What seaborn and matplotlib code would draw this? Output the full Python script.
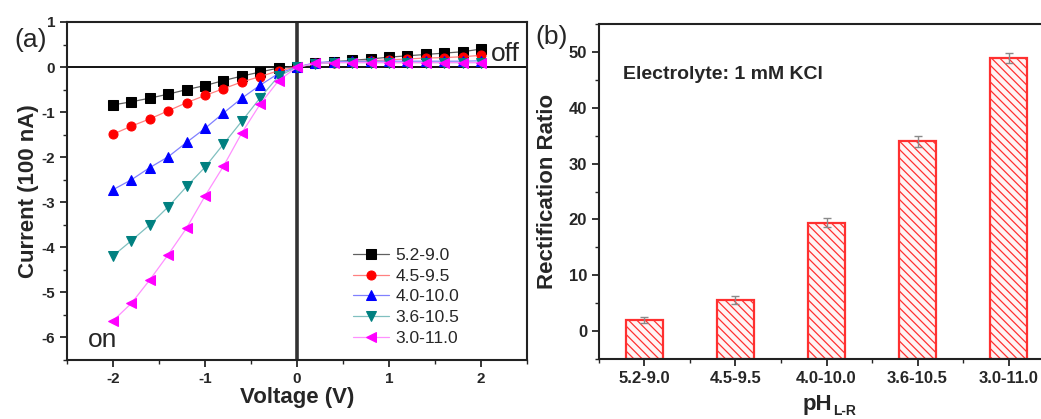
import matplotlib
matplotlib.use("Agg")
import matplotlib.pyplot as plt
from matplotlib.ticker import MultipleLocator
import seaborn as sns
import pandas as pd

# ---- panel (a): I-V curves ----
voltage = [-2.0, -1.8, -1.6, -1.4, -1.2, -1.0, -0.8, -0.6, -0.4, -0.2, 0.0,
           0.2, 0.4, 0.6, 0.8, 1.0, 1.2, 1.4, 1.6, 1.8, 2.0]
i_52_90 = [-0.84, -0.77, -0.69, -0.60, -0.50, -0.41, -0.30, -0.20, -0.11, -0.02, 0.0,
           0.08, 0.12, 0.15, 0.18, 0.22, 0.25, 0.28, 0.31, 0.34, 0.40]
i_45_95 = [-1.49, -1.31, -1.15, -0.97, -0.79, -0.63, -0.48, -0.33, -0.21, -0.08, 0.0,
           0.08, 0.10, 0.12, 0.14, 0.16, 0.18, 0.20, 0.21, 0.23, 0.26]
i_40_100 = [-2.72, -2.50, -2.23, -1.99, -1.67, -1.36, -1.02, -0.69, -0.40, -0.14, 0.0,
            0.10, 0.12, 0.13, 0.13, 0.13, 0.13, 0.13, 0.13, 0.13, 0.14]
i_36_105 = [-4.19, -3.85, -3.50, -3.10, -2.65, -2.22, -1.71, -1.20, -0.68, -0.20, 0.0,
            0.07, 0.10, 0.10, 0.10, 0.10, 0.10, 0.10, 0.10, 0.10, 0.10]
i_30_110 = [-5.63, -5.24, -4.72, -4.16, -3.57, -2.86, -2.20, -1.46, -0.82, -0.30, 0.0,
            0.08, 0.10, 0.10, 0.10, 0.10, 0.10, 0.10, 0.10, 0.10, 0.10]
series_labels = ["5.2-9.0", "4.5-9.5", "4.0-10.0", "3.6-10.5", "3.0-11.0"]
series_colors = ["#000000", "#ff0000", "#0000ff", "#008080", "#ff00ff"]
line_colors = ["#606060", "#ff8080", "#8080ff", "#80c0c0", "#ff90ff"]
series_markers = ["s", "o", "^", "v", "<"]

# ---- panel (b): rectification ratio ----
ph_pairs = ["5.2-9.0", "4.5-9.5", "4.0-10.0", "3.6-10.5", "3.0-11.0"]
ratio = [2.0, 5.6, 19.4, 34.0, 48.9]
ratio_err = [0.5, 0.7, 0.8, 1.0, 0.9]
ratio_floor = -5

sns.set_style("ticks")
plt.rcParams["font.family"] = ["Liberation Sans", "DejaVu Sans"]
plt.rcParams["axes.unicode_minus"] = False
plt.rcParams["hatch.color"] = "#ff3030"
plt.rcParams["hatch.linewidth"] = 0.9

fig = plt.figure(figsize=(10.41, 4.19), dpi=100)
ax1 = fig.add_axes([0.0644, 0.1408, 0.4419, 0.8067])
ax2 = fig.add_axes([0.5754, 0.1432, 0.4371, 0.7995])

curves = [i_52_90, i_45_95, i_40_100, i_36_105, i_30_110]
for ys, lab, col, lcol, mk in zip(curves, series_labels, series_colors, line_colors, series_markers):
    sns.lineplot(x=voltage, y=ys, ax=ax1, color=lcol, marker=mk, markersize=6.5,
                 markerfacecolor=col, markeredgecolor=col, linewidth=0.9, label=lab)

ax1.axvline(0, color="#333333", lw=2.6, zorder=0)
ax1.axhline(0, color="#000000", lw=1.3, zorder=0)
ax1.set_xlim(-2.5, 2.5)
ax1.set_ylim(-6.5, 1)
ax1.xaxis.set_major_locator(MultipleLocator(1))
ax1.xaxis.set_minor_locator(MultipleLocator(0.5))
ax1.yaxis.set_major_locator(MultipleLocator(1))
ax1.yaxis.set_minor_locator(MultipleLocator(0.5))
ax1.tick_params(which="major", direction="out", length=5, width=1.3)
ax1.tick_params(which="minor", direction="out", length=3, width=1.0)
for lbl in ax1.get_xticklabels() + ax1.get_yticklabels():
    lbl.set_fontsize(11)
    lbl.set_fontweight("bold")
ax1.set_xlabel("Voltage (V)", fontsize=16, fontweight="bold", labelpad=1)
ax1.set_ylabel("Current (100 nA)", fontsize=16, fontweight="bold", labelpad=2)
for sp in ax1.spines.values():
    sp.set_linewidth(1.5)
    sp.set_color("#222222")
ax1.legend(loc="lower left", bbox_to_anchor=(0.602, 0.015), frameon=False,
           fontsize=12.5, handlelength=2.1, handletextpad=0.35, labelspacing=0.33,
           borderpad=0)
ax1.text(0.985, 0.905, "off", transform=ax1.transAxes, fontsize=19, ha="right", va="center")
ax1.text(0.045, 0.06, "on", transform=ax1.transAxes, fontsize=19, ha="left", va="center")
fig.text(0.014, 0.905, "(a)", fontsize=19, ha="left", va="center")

df_b = pd.DataFrame({"pair": ph_pairs, "ratio": ratio})
sns.barplot(data=df_b, x="pair", y="ratio", ax=ax2, width=0.41, color="white",
            edgecolor="#ff3030", linewidth=1.6, errorbar=None)
ax2.errorbar(range(len(ratio)), ratio, yerr=ratio_err, fmt="none", ecolor="#8a8a8a",
             elinewidth=1.0, capsize=3, capthick=1.0)
ax2.set_xlim(-0.5, 4.5)
ax2.set_ylim(ratio_floor, 55)
ax2.xaxis.set_minor_locator(MultipleLocator(0.5))
ax2.yaxis.set_major_locator(MultipleLocator(10))
ax2.yaxis.set_minor_locator(MultipleLocator(5))
ax2.tick_params(which="major", direction="out", length=5, width=1.3)
ax2.tick_params(which="minor", direction="out", length=3, width=1.0)
for lbl in ax2.get_xticklabels() + ax2.get_yticklabels():
    lbl.set_fontsize(12)
    lbl.set_fontweight("bold")
ax2.set_xlabel("")
ax2.set_ylabel("Rectification Ratio", fontsize=16, fontweight="bold", labelpad=8)
for sp in ax2.spines.values():
    sp.set_linewidth(1.5)
    sp.set_color("#222222")
ax2.text(0.053, 0.848, "Electrolyte: 1 mM KCl", transform=ax2.transAxes,
         fontsize=14, fontweight="bold", ha="left", va="center")
fig.text(0.514, 0.912, "(b)", fontsize=19, ha="left", va="center")
fig.text(0.771, 0.035, "pH", fontsize=16, fontweight="bold", ha="left", va="center")
fig.text(0.800, 0.018, "L-R", fontsize=10, fontweight="bold", ha="left", va="center")

# Origin-style bars: grow from the bottom of the axis, not from zero
for bar, val in zip(ax2.containers[0], ratio):
    bar.set_bounds(bar.get_x(), ratio_floor, bar.get_width(), val - ratio_floor)
    bar.set_hatch("\\\\\\\\")
    bar.set_facecolor("#fff4f4")

fig.savefig("out.png", dpi=100)
